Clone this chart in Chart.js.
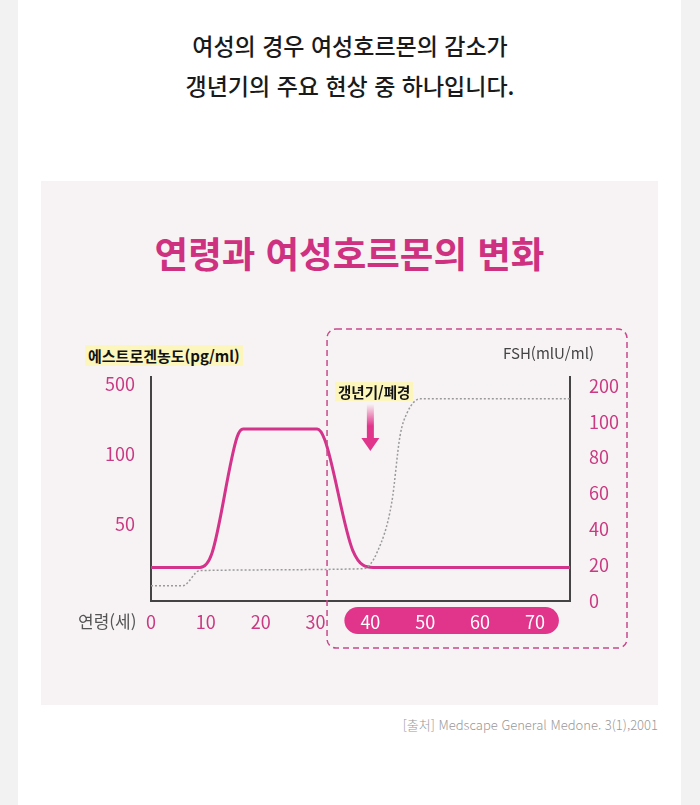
<!DOCTYPE html>
<html lang="ko">
<head>
<meta charset="utf-8">
<script src="https://cdn.jsdelivr.net/npm/chart.js@4.4.1/dist/chart.umd.min.js"></script>
<style>
  body{margin:0;background:#f2f2f2;font-family:'Noto Sans CJK KR','Noto Sans',sans-serif;}
  .page{position:relative;width:700px;height:805px;overflow:hidden;}
  .sheet{position:absolute;left:18px;top:0;width:663px;height:805px;background:#fff;}
  .lead{position:absolute;left:0;top:25px;width:700px;text-align:center;font-size:23px;font-weight:500;line-height:40px;color:#1a1a1a;}
  .panel{position:absolute;left:41px;top:181px;width:617px;height:524px;background:#f7f3f4;}
  .panel h2{position:absolute;left:0;top:49px;width:617px;margin:0;text-align:center;font-size:36.5px;line-height:46px;font-weight:700;color:#cf3181;}
  .panel canvas{position:absolute;left:0;top:0;}
  .hl{position:absolute;background:#fcf6bd;color:#111;font-weight:700;padding:0 3px;white-space:nowrap;}
  .yl{left:44px;top:164px;font-size:15px;line-height:21px;}
  .ann{left:294px;top:201px;font-size:14.5px;line-height:19px;}
  .yr{position:absolute;left:462px;top:161px;font-size:15px;line-height:22px;color:#444;}
  .xl{position:absolute;left:37px;top:428px;font-size:17px;line-height:24px;color:#555;}
  .src{position:absolute;right:42px;top:715px;font-size:13px;line-height:20px;color:#999;font-weight:300;}
</style>
</head>
<body>
<div class="page">
  <div class="sheet"></div>
  <div class="lead">여성의 경우 여성호르몬의 감소가<br>갱년기의 주요 현상 중 하나입니다.</div>
  <div class="panel">
    <h2>연령과 여성호르몬의 변화</h2>
    <canvas id="hormoneChart" width="617" height="524"></canvas>
    <span class="hl yl">에스트로겐농도(pg/ml)</span>
    <span class="yr">FSH(mlU/ml)</span>
    <span class="hl ann">갱년기/폐경</span>
    <span class="xl">연령(세)</span>
  </div>
  <div class="src">[출처] Medscape General Medone. 3(1),2001</div>
</div>
<script>
// tick labels
const ageTicks = [0, 10, 20, 30, 40, 50, 60, 70];
const estrogenTicks = [0, 50, 100, 500];          // 0 is the axis base, not labelled
const fshTicks = [0, 20, 40, 60, 80, 100, 200];

// estrogen (pg/ml) by age
const estrogenAges   = [0, 8.9, 11.1, 15.7, 16.8, 30.3, 31.7, 36.8, 40.5, 76.4];
const estrogenValues = [19, 19, 29, 197, 243, 243, 180, 31, 19, 19];

// FSH (mIU/ml) by age
const fshAges   = [0, 5.8, 8.9, 38.7, 41.2, 43.9, 45.4, 46.7, 49.1, 76.4];
const fshValues = [8.5, 8.5, 17, 18, 27, 55, 92, 125, 164, 164];

const menopauseAge = 40;
const PINK = '#d3338a';
const TICK_PINK = '#c93a82';

// axes are not linear: each labelled tick is one step
function toStep(v, ticks){
  for(let i = 0; i < ticks.length - 1; i++){
    if(v <= ticks[i+1]) return i + (v - ticks[i]) / (ticks[i+1] - ticks[i]);
  }
  return ticks.length - 1;
}

const estrogenData = estrogenAges.map((a, i) => ({x: a, y: toStep(estrogenValues[i], estrogenTicks)}));
const fshData = fshAges.map((a, i) => ({x: a, y: toStep(fshValues[i], fshTicks)}));

const decorations = {
  id: 'decorations',
  beforeDraw(chart){
    const {ctx, scales: {x}, chartArea} = chart;
    // pill behind 40..70
    const l = x.getPixelForValue(40) - 26, r = x.getPixelForValue(70) + 24;
    const cy = chartArea.bottom + 19.5, h = 27;
    ctx.save();
    ctx.fillStyle = '#e1348b';
    ctx.beginPath();
    ctx.roundRect(l, cy - h/2, r - l, h, h/2);
    ctx.fill();
    ctx.restore();
  },
  afterDraw(chart){
    const {ctx, scales: {x}, chartArea} = chart;
    ctx.save();
    // dashed box round the later years
    ctx.strokeStyle = '#c8488a';
    ctx.lineWidth = 1.5;
    ctx.setLineDash([6, 4]);
    const bl = x.getPixelForValue(32.1), br = chartArea.right + 57;
    const bt = chartArea.top - 48, bb = chartArea.bottom + 47;
    ctx.beginPath();
    ctx.roundRect(bl, bt, br - bl, bb - bt, 9);
    ctx.stroke();
    ctx.setLineDash([]);

    // arrow
    const ax = x.getPixelForValue(menopauseAge);
    const top = chartArea.top + 27, neck = chartArea.top + 61, tip = chartArea.top + 74;
    const g = ctx.createLinearGradient(0, top, 0, top + 22);
    g.addColorStop(0, 'rgba(225,52,139,0)');
    g.addColorStop(1, 'rgba(225,52,139,1)');
    ctx.fillStyle = g;
    ctx.fillRect(ax - 3.5, top, 7, neck - top);
    ctx.fillStyle = '#e1348b';
    ctx.beginPath();
    ctx.moveTo(ax - 9, neck);
    ctx.lineTo(ax + 9, neck);
    ctx.lineTo(ax, tip);
    ctx.closePath();
    ctx.fill();
    ctx.restore();
  }
};

Chart.defaults.font.family = "'Noto Sans CJK KR','Noto Sans',sans-serif";

new Chart(document.getElementById('hormoneChart'), {
  type: 'line',
  data: {
    datasets: [{
      label: 'FSH',
      data: fshData,
      yAxisID: 'yR',
      borderColor: '#9a9a9a',
      borderWidth: 1.5,
      borderDash: [2, 2],
      pointRadius: 0,
      cubicInterpolationMode: 'monotone'
    }, {
      label: '에스트로겐',
      data: estrogenData,
      yAxisID: 'yL',
      borderColor: PINK,
      borderWidth: 3,
      pointRadius: 0,
      cubicInterpolationMode: 'monotone'
    }]
  },
  options: {
    responsive: false,
    animation: false,
    devicePixelRatio: 1,
    layout: { padding: { top: 196, left: 0, right: 0, bottom: 0 } },
    plugins: { legend: { display: false }, tooltip: { enabled: false } },
    scales: {
      x: {
        type: 'linear', min: 0, max: 76.4,
        afterBuildTicks: s => { s.ticks = ageTicks.map(v => ({value: v})); },
        afterFit: s => { s.height = 104; },
        grid: { display: false },
        border: { color: '#444', width: 2 },
        ticks: {
          padding: 2,
          font: { size: 18 },
          color: c => c.tick && c.tick.value >= 40 ? '#ffffff' : TICK_PINK,
          callback: v => String(v)
        }
      },
      yL: {
        position: 'left', min: -0.1, max: 3.1,
        afterBuildTicks: s => { s.ticks = [1, 2, 3].map(v => ({value: v})); },
        afterFit: s => { s.width = 110; },
        grid: { display: false },
        border: { color: '#444', width: 2 },
        ticks: { padding: 8, font: { size: 18 }, color: TICK_PINK, callback: v => String(estrogenTicks[v]) }
      },
      yR: {
        position: 'right', min: 0, max: 6.25,
        afterBuildTicks: s => { s.ticks = fshTicks.map((t, i) => ({value: i})); },
        afterFit: s => { s.width = 88; },
        grid: { display: false },
        border: { color: '#444', width: 2 },
        ticks: { padding: 11, font: { size: 18 }, color: TICK_PINK, callback: v => String(fshTicks[v]) }
      }
    }
  },
  plugins: [decorations]
});
</script>
</body>
</html>
